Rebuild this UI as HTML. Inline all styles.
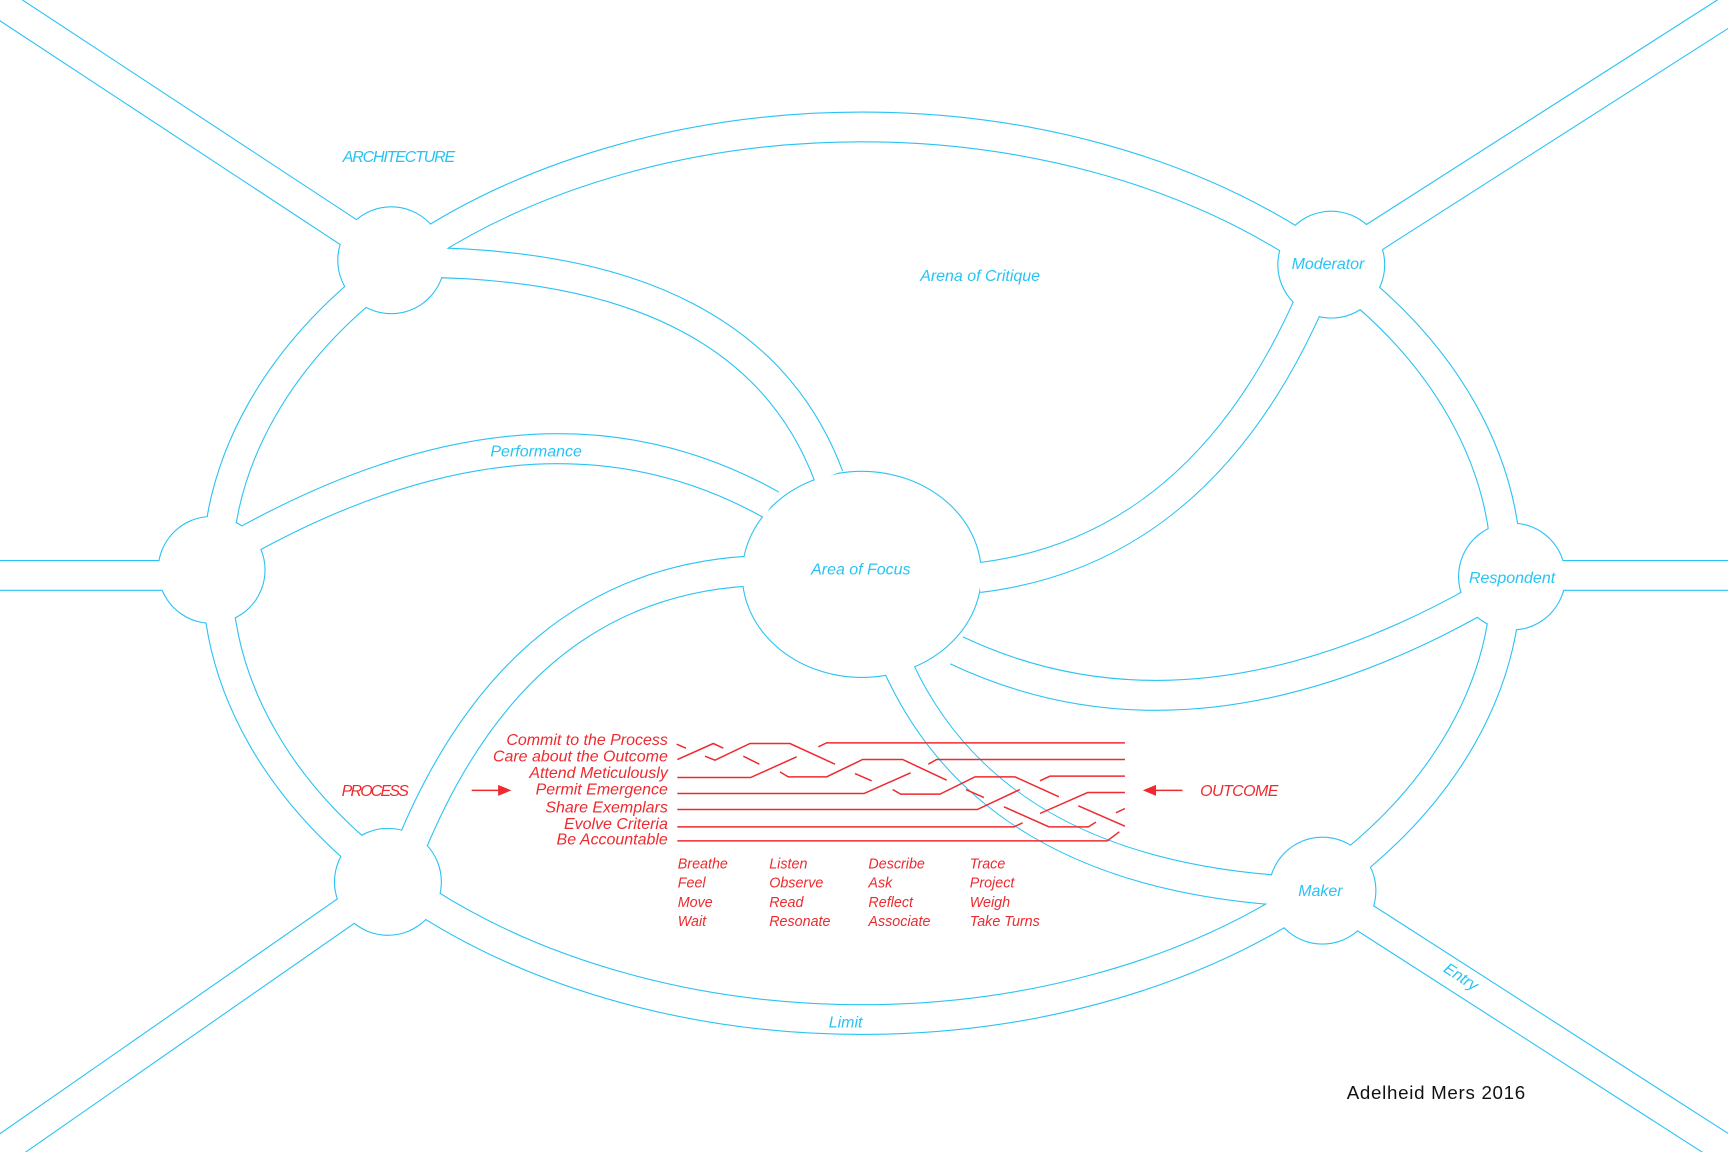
<!DOCTYPE html>
<html><head><meta charset="utf-8"><style>
html,body{margin:0;padding:0;background:#fff;}
svg{display:block;}
text{font-family:"Liberation Sans",sans-serif;font-style:italic;}
</style></head><body>
<svg width="1728" height="1152" viewBox="0 0 1568 1045" xmlns="http://www.w3.org/2000/svg">
<defs>
<g id="roads">
  <path d="M-10,-4 L355,236"/>
  <path d="M1580,2 L1208,240"/>
  <path d="M-10,522 L192,522"/>
  <path d="M1372,522 L1580,522"/>
  <path d="M-10,1052 L352,800"/>
  <path d="M1200,808 L1580,1052"/>
  <ellipse cx="782" cy="520" rx="585" ry="405"/>
  <path d="M380,238 Q680,240 752,432"/>
  <path d="M215,495 Q490,340 700,458"/>
  <path d="M372,770 Q470,530 680,518"/>
  <path d="M1190,270 Q1090,500 888,524"/>
  <path d="M1340,545 Q1080,690 868,590"/>
  <path d="M815,605 Q900,790 1165,808"/>
</g>
</defs>
<g fill="none" stroke="#29c3f3" stroke-width="28"><use href="#roads"/></g>
<g fill="#29c3f3">
  <circle cx="355" cy="236" r="49"/><circle cx="192" cy="517" r="49"/><circle cx="352" cy="800" r="49"/>
  <circle cx="1208" cy="240" r="49"/><circle cx="1372" cy="523" r="49"/><circle cx="1200" cy="808" r="49"/>
  <ellipse cx="782" cy="521" rx="109" ry="94"/>
</g>
<g fill="none" stroke="#fff" stroke-width="26"><use href="#roads"/></g>
<g fill="#fff">
  <circle cx="355" cy="236" r="48"/><circle cx="192" cy="517" r="48"/><circle cx="352" cy="800" r="48"/>
  <circle cx="1208" cy="240" r="48"/><circle cx="1372" cy="523" r="48"/><circle cx="1200" cy="808" r="48"/>
  <ellipse cx="782" cy="521" rx="108" ry="93"/>
</g>
<g fill="#29c3f3" font-size="14.5">
  <text x="311" y="147" textLength="102">ARCHITECTURE</text>
  <text x="835" y="255">Arena of Critique</text>
  <text x="1172" y="244">Moderator</text>
  <text x="445" y="414">Performance</text>
  <text x="736" y="521">Area of Focus</text>
  <text x="1333" y="529">Respondent</text>
  <text x="1178" y="813">Maker</text>
  <text x="752" y="932">Limit</text>
  <text x="0" y="0" transform="translate(1309,881) rotate(33)">Entry</text>
</g>
<g transform="scale(0.9074) translate(660,720) scale(0.3333)" fill="none" stroke="#ee2a2f" stroke-width="4.5">
  <path d="M50,72 L78,84"/>
  <path d="M52,118 L160,70 L190,84"/>
  <path d="M135,108 L165,120 L270,70 L390,70 L525,132"/>
  <path d="M250,108 L298,132"/>
  <path d="M52,172 L272,172 L410,110"/>
  <path d="M475,80 L500,68 L1395,68"/>
  <path d="M360,155 L385,170 L500,170 L608,118 L728,118 L860,180"/>
  <path d="M585,160 L635,182"/>
  <path d="M52,220 L612,220 L752,158"/>
  <path d="M805,132 L830,118 L1395,118"/>
  <path d="M698,208 L722,222 L840,222 L945,170 L1065,170 L1197,230"/>
  <path d="M918,208 L972,232"/>
  <path d="M52,268 L952,268 L1080,208"/>
  <path d="M1140,182 L1170,168 L1395,168"/>
  <path d="M1032,260 L1167,320 L1285,320 L1308,306"/>
  <path d="M1140,280 L1283,217 L1395,217"/>
  <path d="M1255,257 L1395,318"/>
  <path d="M1368,278 L1395,265"/>
  <path d="M52,320 L1062,320 L1088,308"/>
  <path d="M52,362 L1342,362 L1378,335"/>
</g>
<g fill="#ee2a2f" font-size="14.5" text-anchor="end">
  <text x="606" y="676">Commit to the Process</text>
  <text x="606" y="691">Care about the Outcome</text>
  <text x="606" y="706">Attend Meticulously</text>
  <text x="606" y="721">Permit Emergence</text>
  <text x="606" y="737">Share Exemplars</text>
  <text x="606" y="752">Evolve Criteria</text>
  <text x="606" y="766">Be Accountable</text>
</g>
<g fill="#ee2a2f" font-size="13">
  <text x="615" y="788">Breathe</text><text x="615" y="805">Feel</text><text x="615" y="823">Move</text><text x="615" y="840">Wait</text>
  <text x="698" y="788">Listen</text><text x="698" y="805">Observe</text><text x="698" y="823">Read</text><text x="698" y="840">Resonate</text>
  <text x="788" y="788">Describe</text><text x="788" y="805">Ask</text><text x="788" y="823">Reflect</text><text x="788" y="840">Associate</text>
  <text x="880" y="788">Trace</text><text x="880" y="805">Project</text><text x="880" y="823">Weigh</text><text x="880" y="840">Take Turns</text>
  <text x="310" y="722" font-size="14.5" textLength="61">PROCESS</text>
  <text x="1089" y="722" font-size="14.5" textLength="71">OUTCOME</text>
</g>
<g stroke="#ee2a2f" stroke-width="1.3" fill="#ee2a2f">
  <line x1="428" y1="717" x2="455" y2="717"/><path d="M464,717 L452,712 L452,722 Z" stroke="none"/>
  <line x1="1073" y1="717" x2="1046" y2="717"/><path d="M1037,717 L1049,712 L1049,722 Z" stroke="none"/>
</g>
<text x="1222" y="997" font-size="17" fill="#111" style="font-style:normal" textLength="162">Adelheid Mers 2016</text>
</svg>
</body></html>
